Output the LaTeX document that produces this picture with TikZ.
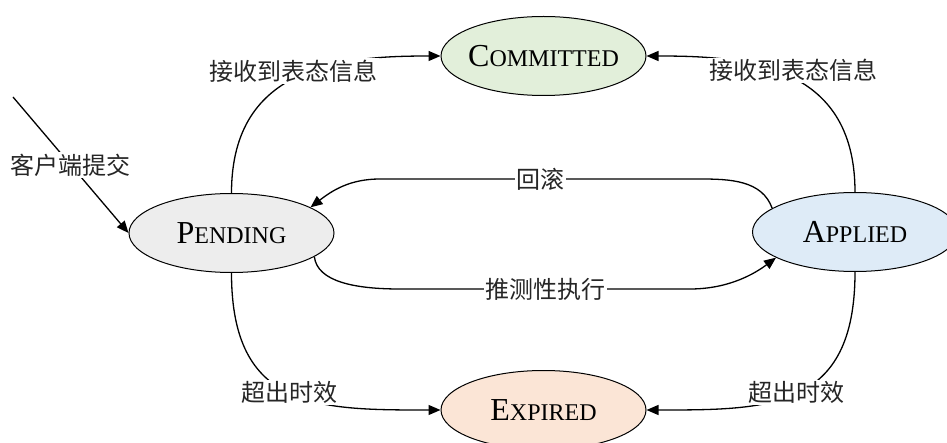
\documentclass[tikz,border=0pt]{standalone}
\usepackage{fontspec}
\setmainfont{Liberation Serif}
\newfontfamily\cjk{Noto Sans CJK SC}
\usetikzlibrary{shapes.geometric,arrows.meta}
\definecolor{cgreen}{HTML}{E2EFDA}
\definecolor{cgray}{HTML}{EDEDED}
\definecolor{cblue}{HTML}{DEEBF7}
\definecolor{corange}{HTML}{FBE5D6}
\newcommand\mysc[2]{\makebox[0pt]{{\fontsize{32}{34}\selectfont #1}{\fontsize{24}{26}\selectfont #2}}}
\begin{document}
\begin{tikzpicture}[x=1pt,y=-1pt,
  state/.style={ellipse, draw, line width=1pt, minimum width=205pt, minimum height=79pt, inner sep=0pt},
  arr/.style={line width=1.3pt, -{Triangle[length=12pt,width=10pt]}},
  lbl/.style={fill=white, inner sep=1.5pt, text=black!85, font=\cjk\fontsize{24}{26}\selectfont}]
\useasboundingbox (0,0) rectangle (947,443);
\clip (0,0) rectangle (947,443);
\fill[white] (0,0) rectangle (947,443);

\node[state, fill=cgreen]  (C) at (543.5,56)  {\mysc{C}{OMMITTED}};
\node[state, fill=cgray]   (P) at (231.5,233) {\mysc{P}{ENDING}};
\node[state, fill=cblue]   (A) at (855,232)   {\mysc{A}{PPLIED}};
\node[state, fill=corange] (E) at (543.5,410) {\mysc{E}{XPIRED}};

\coordinate (st)  at (13,97);
\coordinate (rbR) at (700,179);
\coordinate (rbL) at (380,179);
\coordinate (se1) at (400,289);
\coordinate (se2) at (690,289);

\draw[arr] (st) -- node[lbl]{客户端提交} (P.west);

\draw[arr] (P.north) .. controls +(0,-129) and +(-97,0) .. (C.west)
  node[lbl, midway, xshift=-6pt, yshift=5pt]{接收到表态信息};
\draw[arr] (A.north) .. controls +(0,-129) and +(97,0) .. (C.east)
  node[lbl, midway, xshift=6pt, yshift=5pt]{接收到表态信息};

\draw[arr] (P.south) .. controls +(0,137) and +(-123,0) .. (E.west)
  node[lbl, midway]{超出时效};
\draw[arr] (A.south) .. controls +(0,138) and +(123,0) .. (E.east)
  node[lbl, midway]{超出时效};

\draw[arr] (A.164) .. controls +(-10,-28) and +(30,0) .. (rbR)
  -- node[lbl]{回滚} (rbL)
  .. controls +(-30,0) and +(22,-17) .. (P.18);

\draw[arr] (P.344) .. controls +(3,25) and +(-45,0) .. (se1)
  -- node[lbl]{推测性执行} (se2)
  .. controls +(40,0) and +(-20,15) .. (A.198);
\end{tikzpicture}
\end{document}
